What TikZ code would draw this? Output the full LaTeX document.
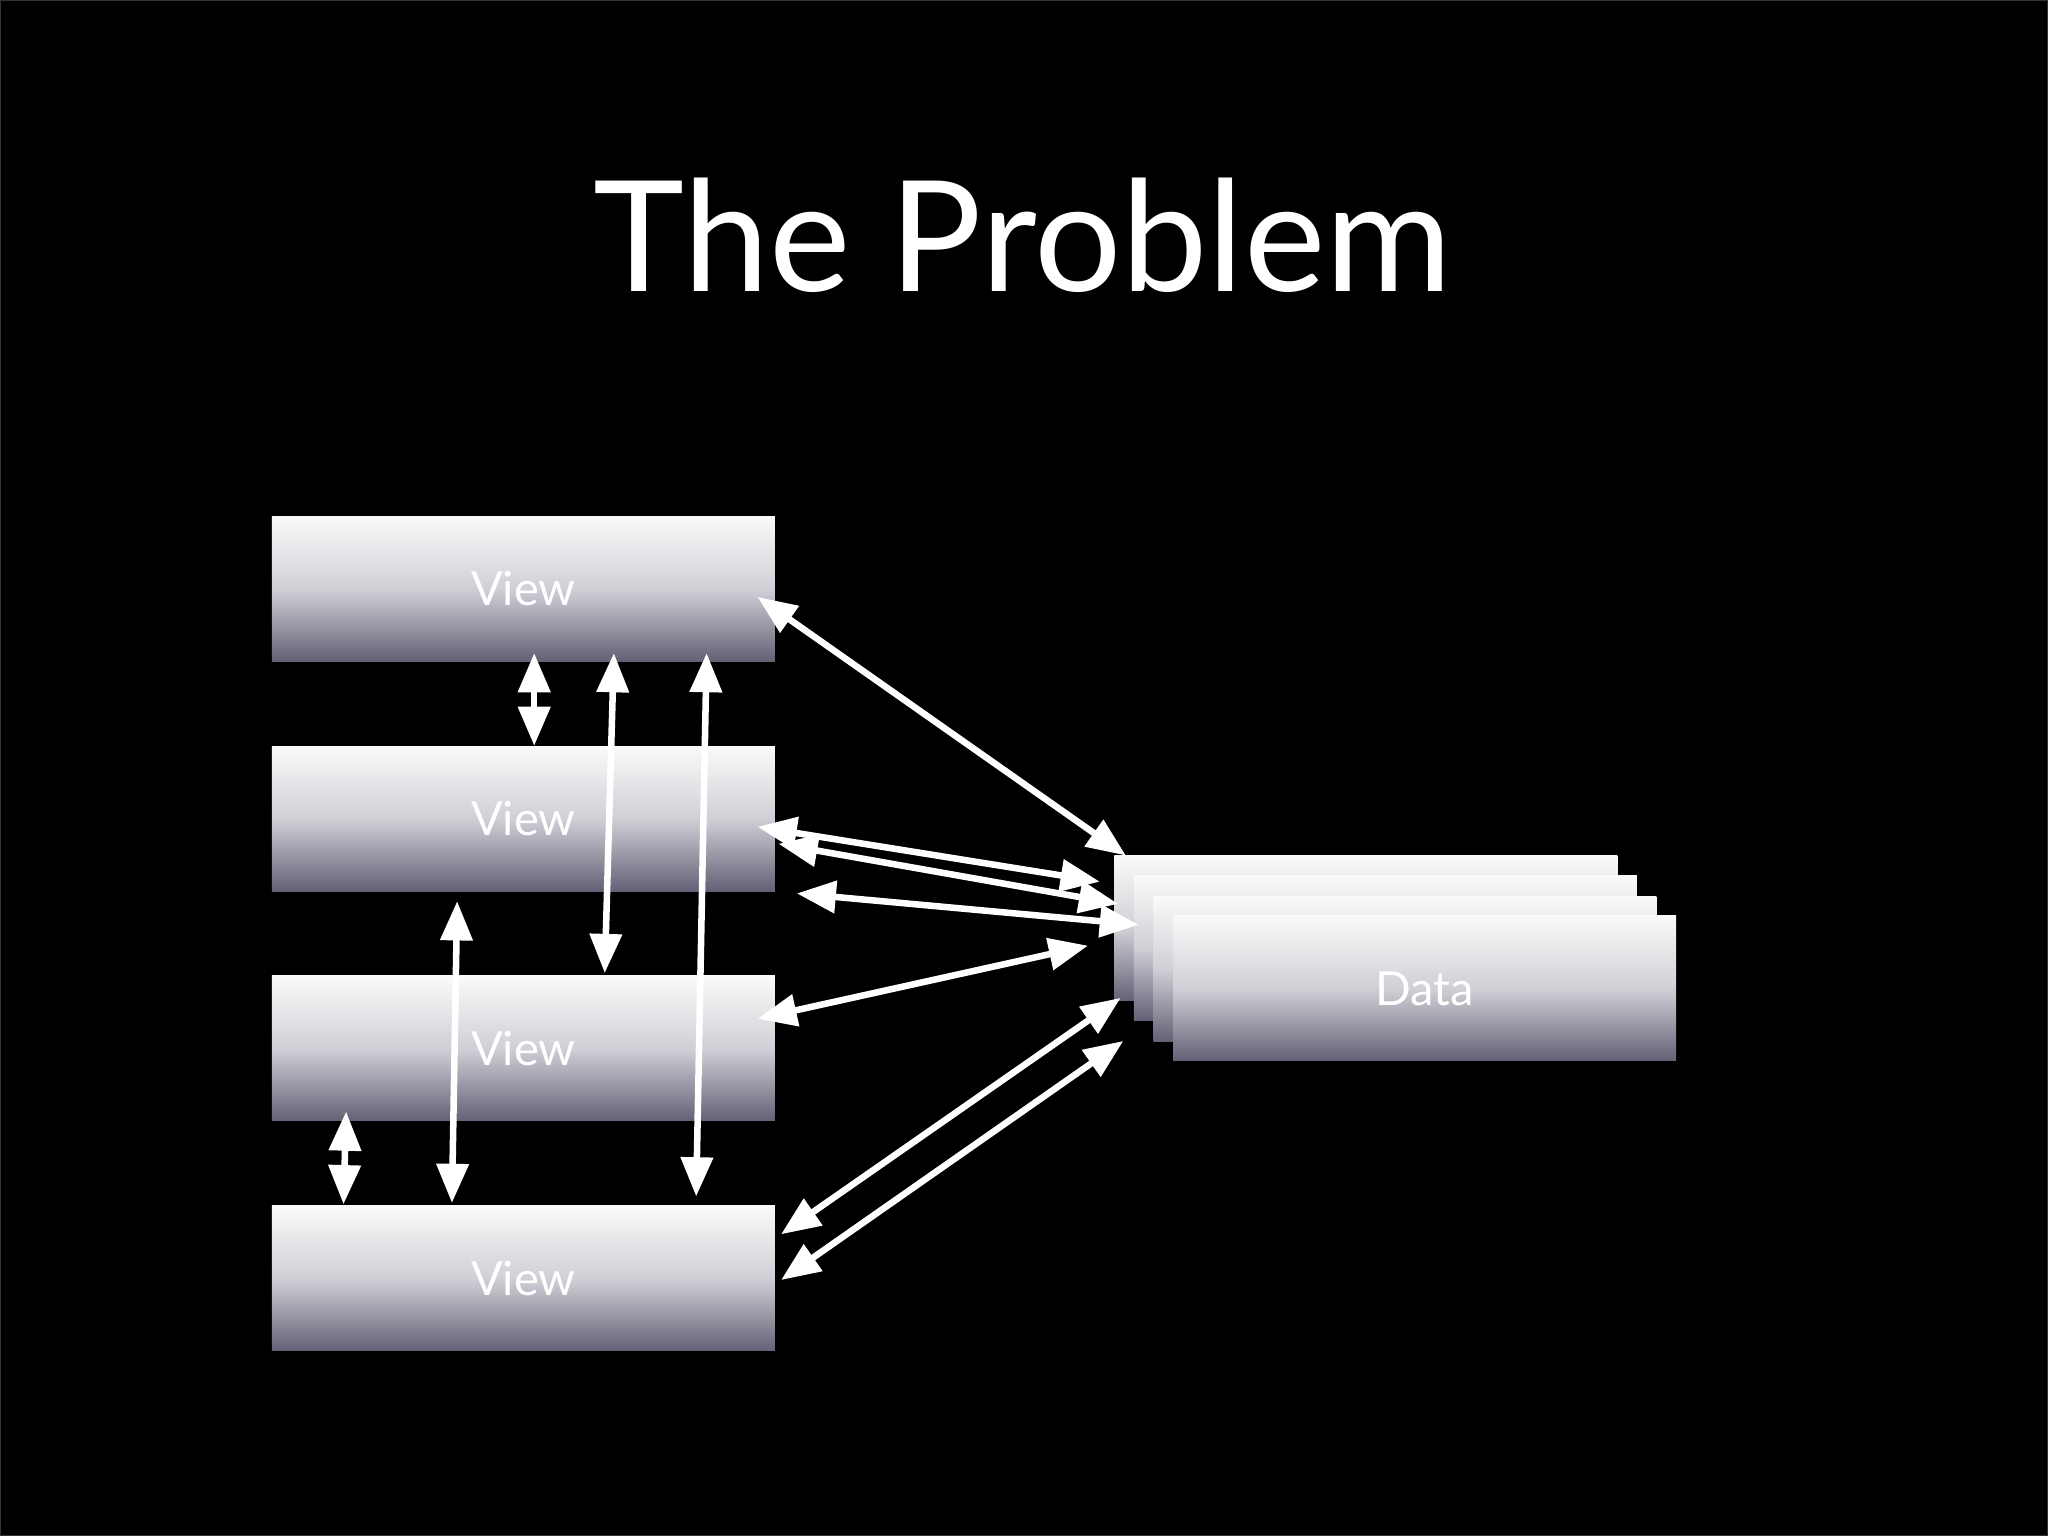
\documentclass[tikz,border=0pt]{standalone}
\usepackage{fontspec}
\setmainfont{Lato}
\usetikzlibrary{arrows.meta}
\definecolor{boxbot}{RGB}{100,96,118}
\tikzset{
 box/.style={minimum width=385pt,minimum height=111pt,inner sep=0pt,top color=white!96!gray,bottom color=boxbot,middle color=white!70!boxbot,shading angle=0,font=\fontsize{36}{40}\selectfont,text=white},
 dbl/.style={draw=white,line width=5pt,{Triangle[length=30pt,width=24pt]}-{Triangle[length=30pt,width=24pt]}}
}
\begin{document}
\begin{tikzpicture}[x=1pt,y=-1pt]
\fill[black] (0,0) rectangle (1568,1176);
\draw[gray!40!black] (0.5,0.5) rectangle (1567.5,1175.5);
\node[text=white,font=\fontsize{118}{120}\selectfont] (title) at (783,180) {The Problem};
\node[box,anchor=north west] (v1) at (208,395) {View};
\node[box,anchor=north west] (v2) at (208,571) {View};
\node[box,anchor=north west] (v3) at (208,747) {View};
\node[box,anchor=north west] (v4) at (208,923) {View};
\node[box,anchor=north west] (d1) at (853,655) {};
\node[box,anchor=north west] (d2) at (868,670) {};
\node[box,anchor=north west] (d3) at (883,686) {};
\node[box,anchor=north west] (d4) at (898,701) {Data};
\coordinate (a1s) at (580,457); \coordinate (a1e) at (862,655);
\coordinate (a2s) at (580,633); \coordinate (a2e) at (842,675);
\coordinate (a3s) at (596,646); \coordinate (a3e) at (856,692);
\coordinate (a4s) at (610,684); \coordinate (a4e) at (872,708);
\coordinate (a5s) at (580,780); \coordinate (a5e) at (833,724);
\coordinate (a6s) at (598,945); \coordinate (a6e) at (858,764);
\coordinate (a7s) at (598,980); \coordinate (a7e) at (860,797);
\coordinate (a8s) at (409,500); \coordinate (a8e) at (409,571);
\coordinate (a9s) at (470,500); \coordinate (a9e) at (463,745);
\coordinate (a10s) at (541,500); \coordinate (a10e) at (533,916);
\coordinate (a11s) at (350,690); \coordinate (a11e) at (346,921);
\coordinate (a12s) at (265,851); \coordinate (a12e) at (263,922);
\foreach \n in {a1,a2,a3,a4,a5,a6,a7,a8,a9,a10,a11,a12}{
 \draw[dbl] (\n s) -- (\n e);
}
\end{tikzpicture}
\end{document}
